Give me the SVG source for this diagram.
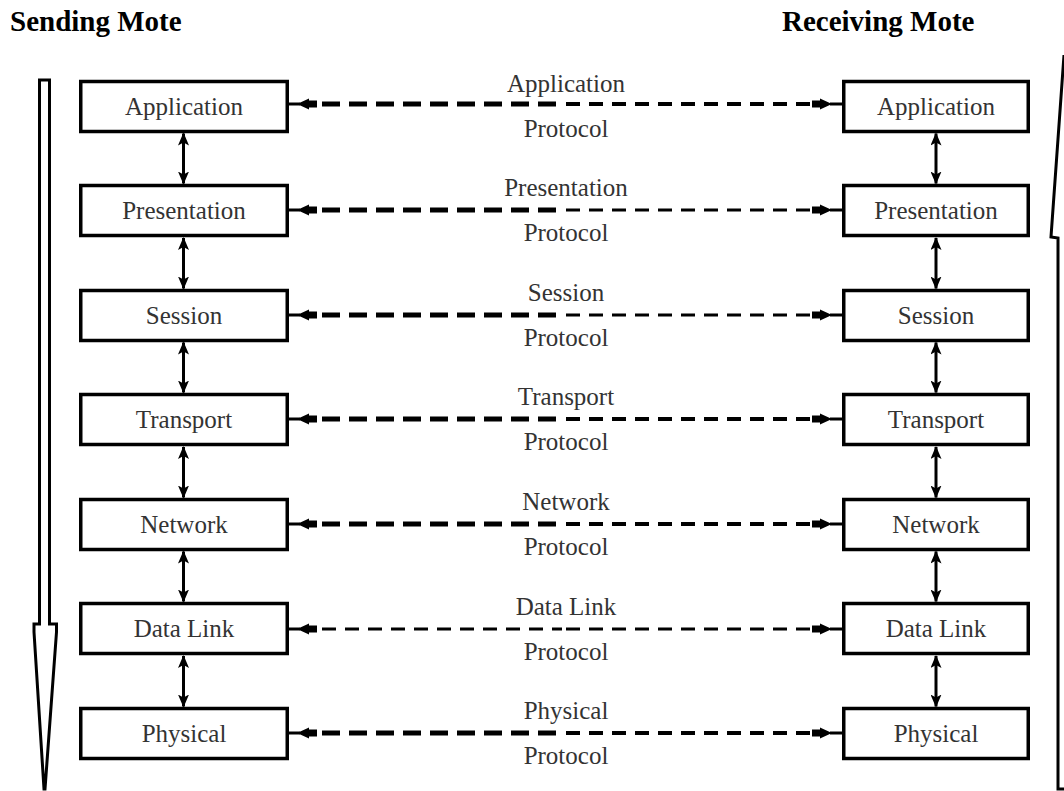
<svg xmlns="http://www.w3.org/2000/svg" width="1064" height="791" viewBox="0 0 1064 791">
<style>
.box{fill:#fff;stroke:#000;stroke-width:3.5}
.lbl{font-family:"Liberation Serif","Times New Roman",serif;font-size:25px;fill:#333;text-anchor:middle}
.ttl{font-family:"Liberation Serif","Times New Roman",serif;font-size:29px;font-weight:bold;fill:#000}
.v{stroke:#000;stroke-width:3;fill:none;marker-start:url(#vh);marker-end:url(#vh)}
.dA{stroke:#000;stroke-width:5;stroke-dasharray:18 9;fill:none}
.dB{stroke:#000;stroke-width:4;stroke-dasharray:14 9;fill:none}
.dC{stroke:#000;stroke-width:2.8;stroke-dasharray:14 9;fill:none}
.stub{stroke:#000;stroke-width:3;fill:none}
.big{fill:#fff;stroke:#000;stroke-width:3}
</style>
<defs>
<marker id="vh" viewBox="0 0 13 11" markerUnits="userSpaceOnUse" markerWidth="13" markerHeight="11" refX="12" refY="5.5" orient="auto-start-reverse">
<path d="M0,0 L13,5.5 L0,11 L3,5.5 z" fill="#000"/>
</marker>
<g id="hl"><path d="M0,0 L12,-5.5 L12,5.5 z" fill="#000"/><rect x="10" y="-3.5" width="10" height="7" fill="#000"/></g>
<g id="hr"><path d="M0,0 L-12,-5.5 L-12,5.5 z" fill="#000"/><rect x="-20" y="-3.5" width="10" height="7" fill="#000"/></g>
</defs>

<text class="ttl" x="10" y="31">Sending Mote</text>
<text class="ttl" x="782" y="31">Receiving Mote</text>

<g id="send-arrow"><path class="big" d="M39.5,80 L49.5,80 L49.5,624 L56.5,624 L56.5,632 L45,789 L44,789 L34,632 L34,624 L39.5,624 Z"/></g>
<g id="recv-arrow"><path d="M1064,55 L1051,237 L1058,238 L1058,789 L1064,789" fill="none" stroke="#000" stroke-width="3"/></g>

<g id="connectors">
<line class="v" x1="183.5" y1="133.5" x2="183.5" y2="183.5"/>
<line class="v" x1="183.5" y1="238" x2="183.5" y2="288.5"/>
<line class="v" x1="183.5" y1="342.5" x2="183.5" y2="392.5"/>
<line class="v" x1="183.5" y1="447" x2="183.5" y2="497.5"/>
<line class="v" x1="183.5" y1="551.5" x2="183.5" y2="601.5"/>
<line class="v" x1="183.5" y1="656" x2="183.5" y2="706.5"/>
<line class="v" x1="936" y1="133.5" x2="936" y2="183.5"/>
<line class="v" x1="936" y1="238" x2="936" y2="288.5"/>
<line class="v" x1="936" y1="342.5" x2="936" y2="392.5"/>
<line class="v" x1="936" y1="447" x2="936" y2="497.5"/>
<line class="v" x1="936" y1="551.5" x2="936" y2="601.5"/>
<line class="v" x1="936" y1="656" x2="936" y2="706.5"/>
<g transform="translate(0,104)">
<line class="stub" x1="289" y1="0" x2="300" y2="0"/><use href="#hl" x="297" y="0"/>
<line class="dA" x1="322" y1="0" x2="562" y2="0"/><line class="dB" x1="566" y1="0" x2="812" y2="0"/>
<use href="#hr" x="832" y="0"/><line class="stub" x1="830" y1="0" x2="842" y2="0"/>
</g>
<g transform="translate(0,210)">
<line class="stub" x1="289" y1="0" x2="300" y2="0"/><use href="#hl" x="297" y="0"/>
<line class="dA" x1="322" y1="0" x2="562" y2="0"/><line class="dC" x1="566" y1="0" x2="812" y2="0"/>
<use href="#hr" x="832" y="0"/><line class="stub" x1="830" y1="0" x2="842" y2="0"/>
</g>
<g transform="translate(0,315)">
<line class="stub" x1="289" y1="0" x2="300" y2="0"/><use href="#hl" x="297" y="0"/>
<line class="dA" x1="322" y1="0" x2="562" y2="0"/><line class="dC" x1="566" y1="0" x2="812" y2="0"/>
<use href="#hr" x="832" y="0"/><line class="stub" x1="830" y1="0" x2="842" y2="0"/>
</g>
<g transform="translate(0,419)">
<line class="stub" x1="289" y1="0" x2="300" y2="0"/><use href="#hl" x="297" y="0"/>
<line class="dA" x1="322" y1="0" x2="562" y2="0"/><line class="dB" x1="566" y1="0" x2="812" y2="0"/>
<use href="#hr" x="832" y="0"/><line class="stub" x1="830" y1="0" x2="842" y2="0"/>
</g>
<g transform="translate(0,524)">
<line class="stub" x1="289" y1="0" x2="300" y2="0"/><use href="#hl" x="297" y="0"/>
<line class="dA" x1="322" y1="0" x2="562" y2="0"/><line class="dB" x1="566" y1="0" x2="812" y2="0"/>
<use href="#hr" x="832" y="0"/><line class="stub" x1="830" y1="0" x2="842" y2="0"/>
</g>
<g transform="translate(0,629)">
<line class="stub" x1="289" y1="0" x2="300" y2="0"/><use href="#hl" x="297" y="0"/>
<line class="dC" x1="322" y1="0" x2="562" y2="0"/><line class="dC" x1="566" y1="0" x2="812" y2="0"/>
<use href="#hr" x="832" y="0"/><line class="stub" x1="830" y1="0" x2="842" y2="0"/>
</g>
<g transform="translate(0,733)">
<line class="stub" x1="289" y1="0" x2="300" y2="0"/><use href="#hl" x="297" y="0"/>
<line class="dA" x1="322" y1="0" x2="562" y2="0"/><line class="dB" x1="566" y1="0" x2="812" y2="0"/>
<use href="#hr" x="832" y="0"/><line class="stub" x1="830" y1="0" x2="842" y2="0"/>
</g>
</g>

<g id="protocol-labels">
<text class="lbl" x="566" y="92">Application</text><text class="lbl" x="566" y="137">Protocol</text>
<text class="lbl" x="566" y="196">Presentation</text><text class="lbl" x="566" y="241">Protocol</text>
<text class="lbl" x="566" y="301">Session</text><text class="lbl" x="566" y="346">Protocol</text>
<text class="lbl" x="566" y="405">Transport</text><text class="lbl" x="566" y="450">Protocol</text>
<text class="lbl" x="566" y="510">Network</text><text class="lbl" x="566" y="555">Protocol</text>
<text class="lbl" x="566" y="615">Data Link</text><text class="lbl" x="566" y="660">Protocol</text>
<text class="lbl" x="566" y="719">Physical</text><text class="lbl" x="566" y="764">Protocol</text>
</g>

<g id="s-application"><rect class="box" x="80.75" y="81.5" width="206.5" height="50"/><text class="lbl" x="184" y="115">Application</text></g>
<g id="s-presentation"><rect class="box" x="80.75" y="185.5" width="206.5" height="50"/><text class="lbl" x="184" y="219">Presentation</text></g>
<g id="s-session"><rect class="box" x="80.75" y="290.5" width="206.5" height="50"/><text class="lbl" x="184" y="324">Session</text></g>
<g id="s-transport"><rect class="box" x="80.75" y="394.5" width="206.5" height="50"/><text class="lbl" x="184" y="428">Transport</text></g>
<g id="s-network"><rect class="box" x="80.75" y="499.5" width="206.5" height="50"/><text class="lbl" x="184" y="533">Network</text></g>
<g id="s-datalink"><rect class="box" x="80.75" y="603.5" width="206.5" height="50"/><text class="lbl" x="184" y="637">Data Link</text></g>
<g id="s-physical"><rect class="box" x="80.75" y="708.5" width="206.5" height="50"/><text class="lbl" x="184" y="742">Physical</text></g>

<g id="r-application"><rect class="box" x="843.75" y="81.5" width="184.5" height="50"/><text class="lbl" x="936" y="115">Application</text></g>
<g id="r-presentation"><rect class="box" x="843.75" y="185.5" width="184.5" height="50"/><text class="lbl" x="936" y="219">Presentation</text></g>
<g id="r-session"><rect class="box" x="843.75" y="290.5" width="184.5" height="50"/><text class="lbl" x="936" y="324">Session</text></g>
<g id="r-transport"><rect class="box" x="843.75" y="394.5" width="184.5" height="50"/><text class="lbl" x="936" y="428">Transport</text></g>
<g id="r-network"><rect class="box" x="843.75" y="499.5" width="184.5" height="50"/><text class="lbl" x="936" y="533">Network</text></g>
<g id="r-datalink"><rect class="box" x="843.75" y="603.5" width="184.5" height="50"/><text class="lbl" x="936" y="637">Data Link</text></g>
<g id="r-physical"><rect class="box" x="843.75" y="708.5" width="184.5" height="50"/><text class="lbl" x="936" y="742">Physical</text></g>
</svg>
